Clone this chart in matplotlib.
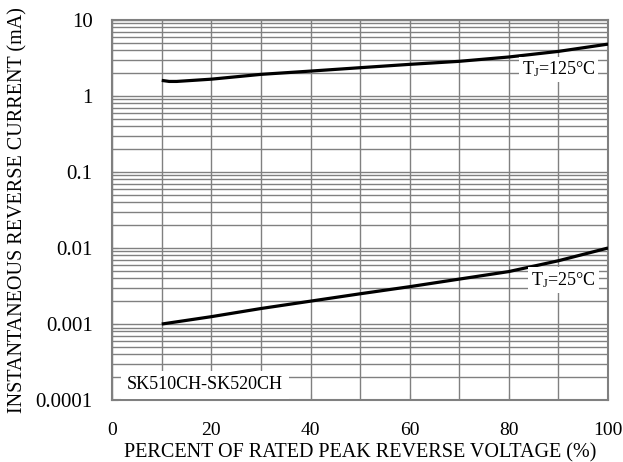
import matplotlib
matplotlib.use("Agg")
import matplotlib.pyplot as plt
from matplotlib.ticker import LogLocator, NullFormatter, FixedLocator

plt.rcParams['font.family'] = ['Liberation Serif', 'DejaVu Serif']
plt.rcParams['mathtext.fontset'] = 'custom'
plt.rcParams['mathtext.rm'] = 'Liberation Serif'
plt.rcParams['mathtext.default'] = 'regular'

# data
v_125 = [10, 11.5, 13, 20, 30, 40, 50, 60, 70, 80, 90, 100]
i_125 = [1.6, 1.55, 1.55, 1.66, 1.92, 2.12, 2.35, 2.6, 2.85, 3.25, 3.85, 4.8]
v_25 = [10, 20, 30, 40, 50, 60, 70, 80, 90, 100]
i_25 = [0.001, 0.00125, 0.0016, 0.002, 0.0025, 0.0031, 0.0039, 0.0049, 0.0068, 0.01]

y_ticks = [0.0001, 0.001, 0.01, 0.1, 1, 10]
y_labels = ["0.0001", "0.001", "0.01", "0.1", "1", "10"]
x_ticks = [0, 20, 40, 60, 80, 100]

fig = plt.figure(figsize=(6.23, 4.62), dpi=100)
ax = fig.add_axes([0.18, 0.134, 0.796, 0.823])

ax.plot(v_125, i_125, color='black', lw=2.3, solid_capstyle='butt', zorder=3)
ax.plot(v_25, i_25, color='black', lw=2.3, solid_capstyle='butt', zorder=3)

ax.set_yscale('log')
ax.set_xlim(0, 100)
ax.set_ylim(0.0001, 10)
ax.set_xticks(x_ticks)
ax.xaxis.set_minor_locator(FixedLocator(range(0, 101, 10)))
ax.set_yticks(y_ticks)
ax.set_yticklabels(y_labels)
ax.yaxis.set_minor_locator(LogLocator(base=10, subs=range(2, 10), numticks=20))
ax.yaxis.set_minor_formatter(NullFormatter())

ax.grid(True, which='major', color='#808080', lw=1.0)
ax.grid(True, which='minor', color='#808080', lw=1.0)
ax.tick_params(which='both', direction='in', length=4, color='#808080')
ax.tick_params(axis='x', labelsize=14, pad=16)
ax.tick_params(axis='y', labelsize=15, pad=14)
for s in ax.spines.values():
    s.set_color('#808080')
    s.set_linewidth(1.5)

ax.set_xlabel("PERCENT OF RATED PEAK REVERSE VOLTAGE (%)", fontsize=14.5, labelpad=2.5)
ax.set_ylabel("INSTANTANEOUS REVERSE CURRENT (mA)", fontsize=14.5, labelpad=6)

box = dict(facecolor='white', edgecolor='none', pad=2)
ax.text(90, 2.25, "T$_{J}$=125\u00b0C", fontsize=13, ha='center', va='center', bbox=box, zorder=4)
ax.text(91, 0.0038, "T$_{J}$=25\u00b0C", fontsize=13, ha='center', va='center', bbox=box, zorder=4)
ax.text(3, 0.000158, "SK510CH-SK520CH", fontsize=13, ha='left', va='center',
        bbox=dict(facecolor='white', edgecolor='none', pad=4), zorder=4)

fig.savefig("out.png", dpi=100)
